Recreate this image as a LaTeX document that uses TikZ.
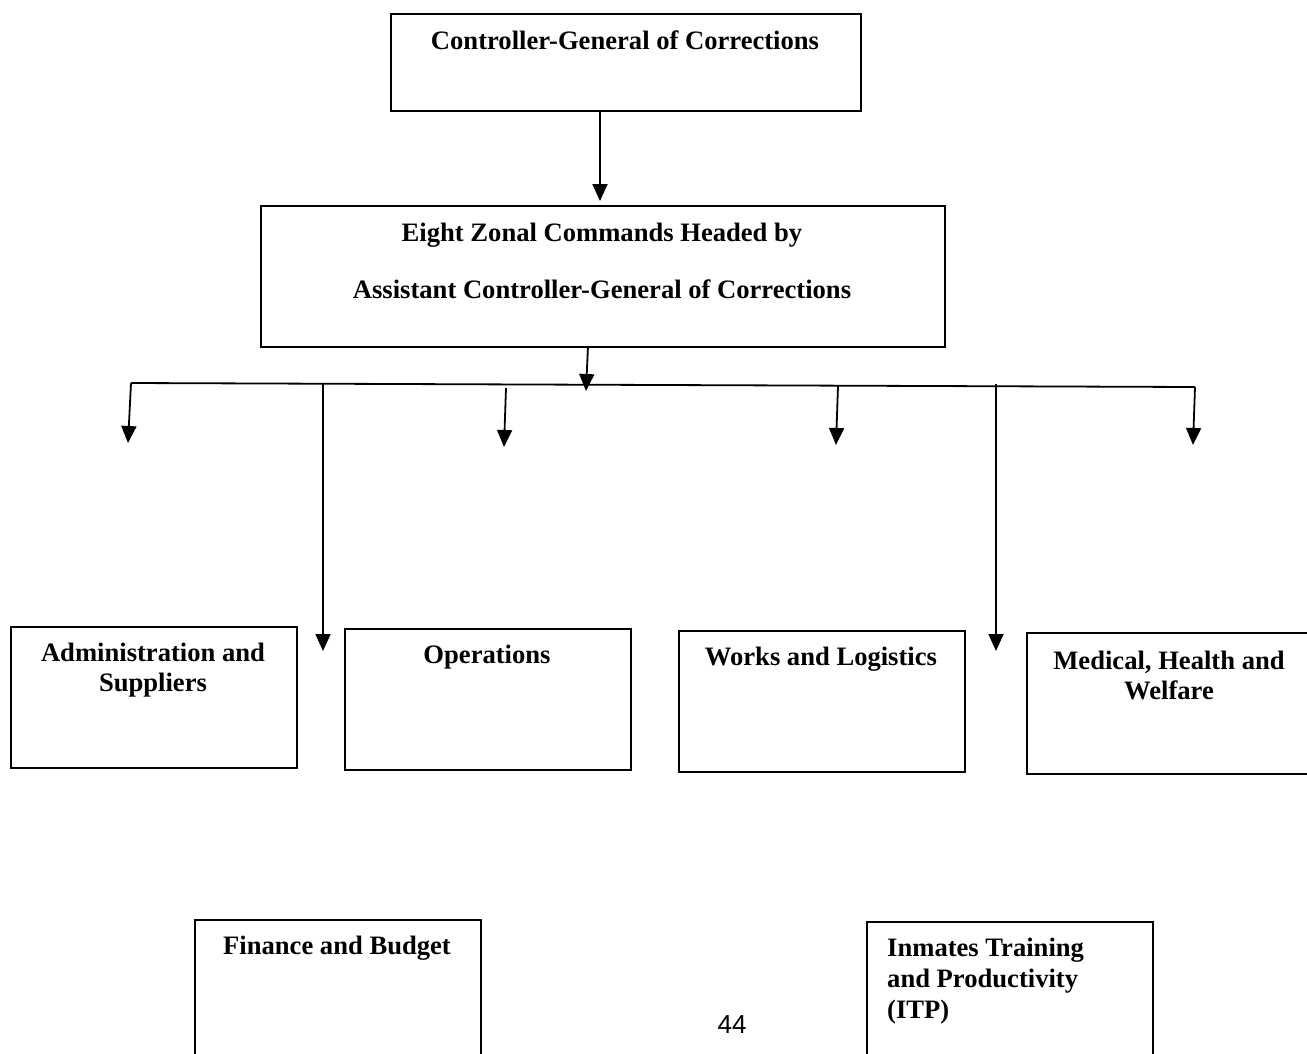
\documentclass[tikz,border=0pt]{standalone}
\usepackage{fontspec}
\setmainfont{Liberation Serif}
\setsansfont{Liberation Sans}
\usetikzlibrary{arrows.meta}
\begin{document}
\begin{tikzpicture}[x=1pt,y=-1pt,
  box/.style={draw,line width=1.6pt,rectangle,anchor=north west,inner sep=0pt},
  lbl/.style={font=\bfseries\fontsize{26.6}{30}\selectfont,align=center,inner sep=0pt},
  conn/.style={line width=1.8pt},
  arr/.style={line width=1.8pt,-{Triangle[width=15pt,length=17pt]}}]
\useasboundingbox (0,0) rectangle (1307,1053);
\clip (0,0) rectangle (1307,1053);
% boxes
\node[box,minimum width=470pt,minimum height=97pt] (cg) at (390,13) {};
\node[box,minimum width=684pt,minimum height=141pt] (ez) at (260,205) {};
\node[box,minimum width=286pt,minimum height=141pt] (adm) at (10,626) {};
\node[box,minimum width=286pt,minimum height=141pt] (ops) at (344,628) {};
\node[box,minimum width=286pt,minimum height=141pt] (wl) at (678,630) {};
\node[box,minimum width=300pt,minimum height=141pt] (med) at (1026,632) {};
\node[box,minimum width=286pt,minimum height=150pt] (fin) at (194,919) {};
\node[box,minimum width=286pt,minimum height=150pt] (itp) at (866,921) {};
% texts
\node[lbl] (tcg) at (625,40) {Controller-General of Corrections};
\node[lbl] (tez) at (602,261) {Eight Zonal Commands Headed by\\[27pt]Assistant Controller-General of Corrections};
\node[lbl] (tadm) at (153,670) {Administration and\\Suppliers};
\node[lbl] (tops) at (487,657) {Operations};
\node[lbl] (twl) at (821,659) {Works and Logistics};
\node[lbl] (tmed) at (1169,675) {Medical, Health and\\Welfare};
\node[lbl] (tfin) at (337,948) {Finance and Budget};
\node[lbl,align=left,anchor=north west,font=\bfseries\fontsize{26.6}{31}\selectfont] (titp) at (887,938) {Inmates Training\\and Productivity\\(ITP)};
\node[font=\sffamily\fontsize{26}{28}\selectfont,inner sep=0pt] (pg) at (732,1025) {44};
% bus coordinates
\coordinate (busL) at (131,383);
\coordinate (busR) at (1195,387);
\coordinate (cgout) at (600,110);
\coordinate (ezin) at (600,201);
\coordinate (ezout) at (588,346);
\coordinate (busmid) at (586,391);
\coordinate (j2) at (506,388);
\coordinate (j3) at (838,386);
\coordinate (ja) at (323,384);
\coordinate (jb) at (996,384);
\coordinate (e1) at (128,443);
\coordinate (e2) at (504,447);
\coordinate (e3) at (836,445);
\coordinate (e4) at (1193,445);
\coordinate (ea) at (323,651);
\coordinate (eb) at (996,651);
% connectors
\draw[arr] (cgout) -- (ezin);
\draw[arr] (ezout) -- (busmid);
\draw[conn] (busL) -- (busR);
\draw[arr] (busL) -- (e1);
\draw[arr] (j2) -- (e2);
\draw[arr] (j3) -- (e3);
\draw[arr] (busR) -- (e4);
\draw[arr] (ja) -- (ea);
\draw[arr] (jb) -- (eb);
\end{tikzpicture}
\end{document}
